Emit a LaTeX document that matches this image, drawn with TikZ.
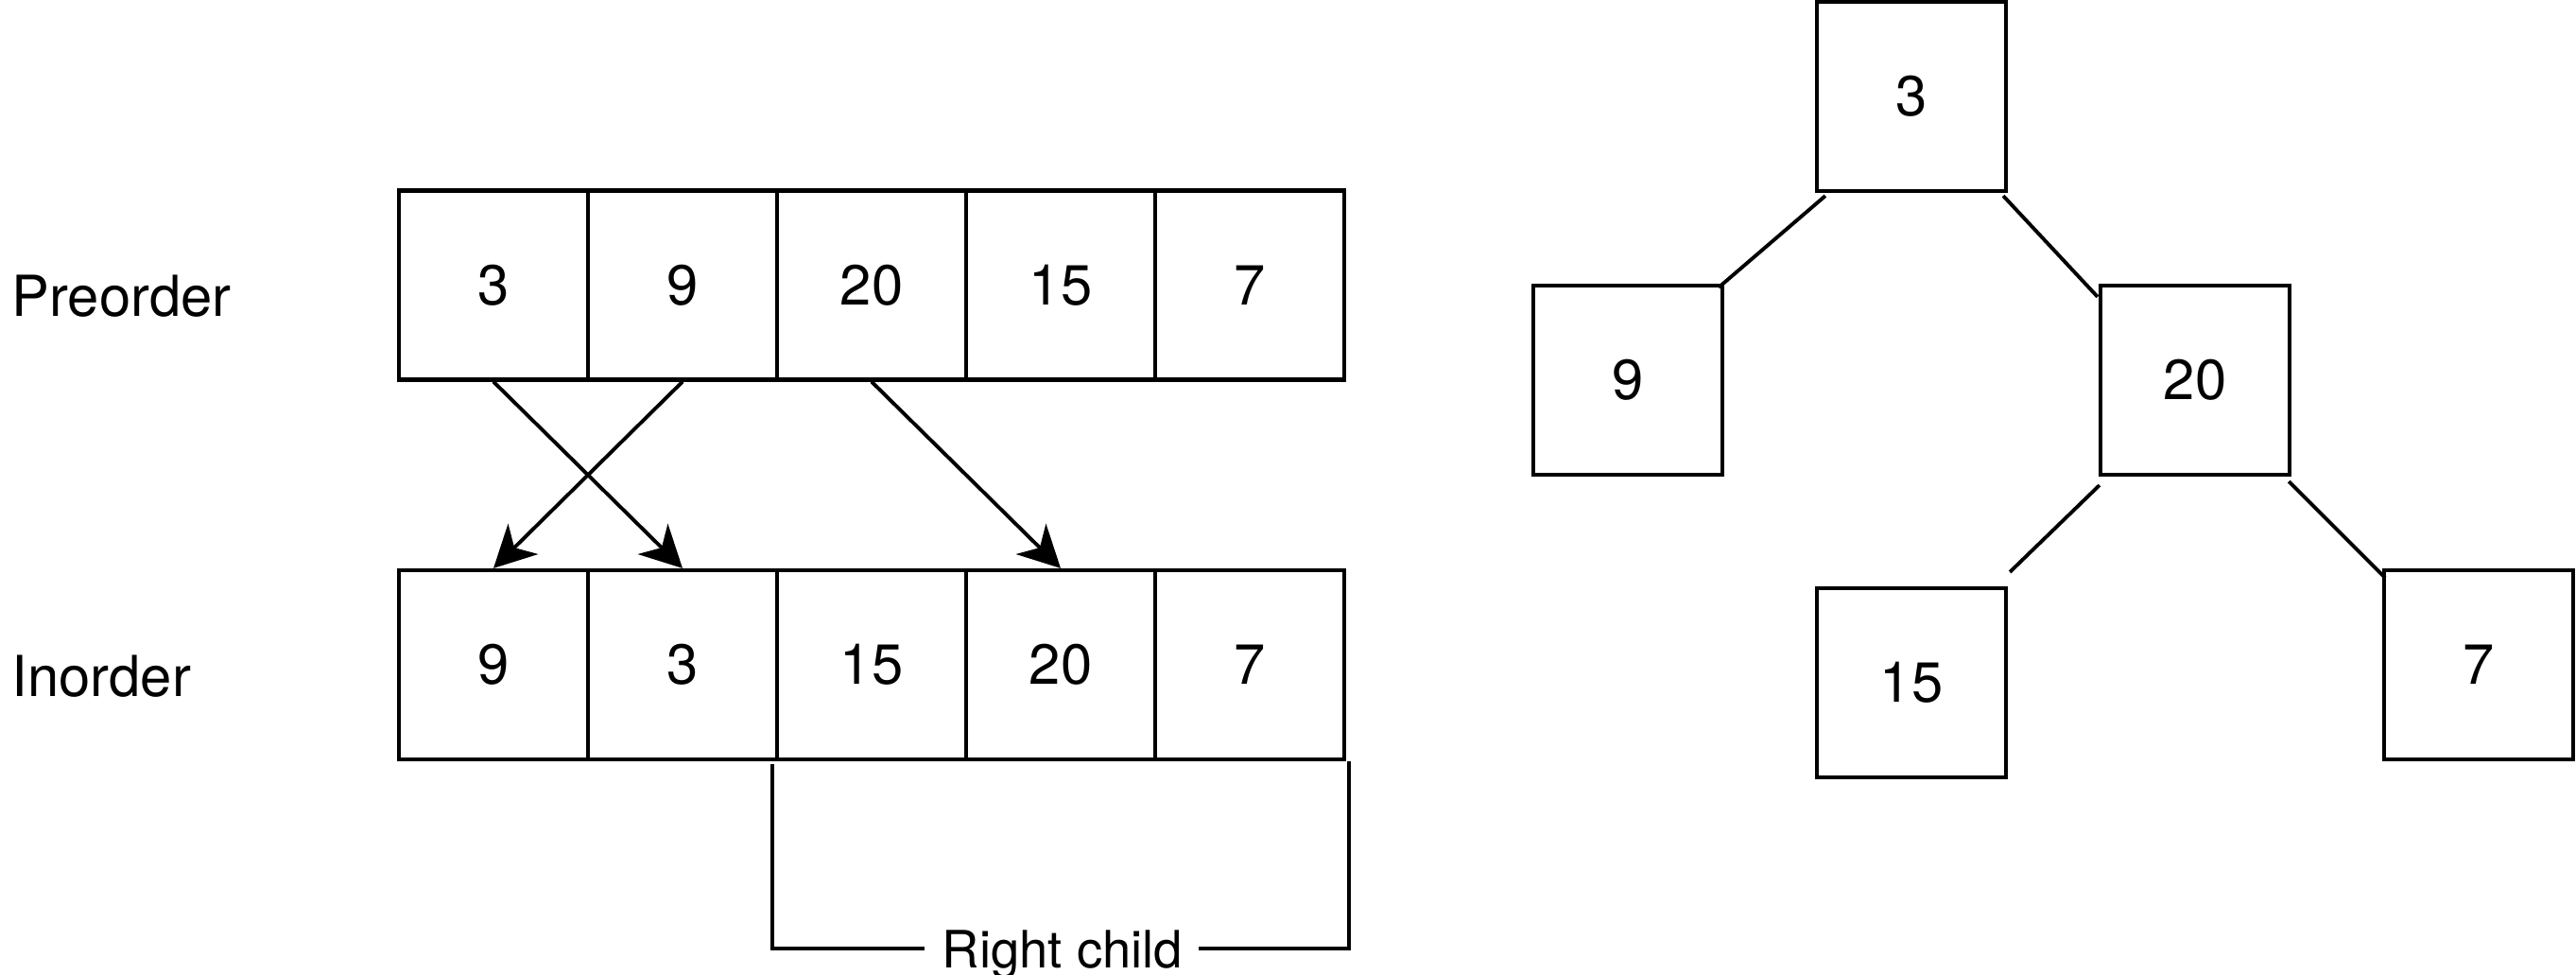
\documentclass[tikz,border=0pt]{standalone}
\usepackage{fontspec}
\setmainfont{TeX Gyre Heros}
\usepackage{tikz}
\usetikzlibrary{arrows.meta,calc}
\tikzset{cell/.style={draw=black,line width=1.2pt,minimum size=2cm,inner sep=0pt,font=\fontsize{17}{20}\selectfont}}
\tikzset{lbl/.style={inner sep=0pt,font=\fontsize{17}{20}\selectfont}}
\tikzset{conn/.style={line width=1.1pt}}

\begin{document}
\begin{tikzpicture}
\useasboundingbox (0,0) rectangle (27.25,10.30);
% \draw[help lines] (0,0) grid (27,10);
\node (pre) [lbl,anchor=west] at (0.12,7.17) {Preorder};
\node (ino) [lbl,anchor=west] at (0.12,3.15) {Inorder};
%
\node (p1) [cell] at (5.22,7.285) {3};
\node (p2) [cell] at (7.22,7.285) {9};
\node (p3) [cell] at (9.22,7.285) {20};
\node (p4) [cell] at (11.22,7.285) {15};
\node (p5) [cell] at (13.22,7.285) {7};
%
\node (i1) [cell] at (5.22,3.27) {9};
\node (i2) [cell] at (7.22,3.27) {3};
\node (i3) [cell] at (9.22,3.27) {15};
\node (i4) [cell] at (11.22,3.27) {20};
\node (i5) [cell] at (13.22,3.27) {7};
%
\path[-{Stealth[length=0.44cm,width=0.45cm,inset=0.13cm]},conn](p1.south) edge (i2.north);
\path[-{Stealth[length=0.44cm,width=0.45cm,inset=0.13cm]},conn](p2.south) edge (i1.north);
\path[-{Stealth[length=0.44cm,width=0.45cm,inset=0.13cm]},conn](p3.south) edge (i4.north);
%
\node (rc) [lbl,font=\fontsize{15.5}{18}\selectfont,anchor=base] at (11.24,0.07) {Right child};
\coordinate (tl) at (8.17,2.22);
\coordinate (bl) at (8.17,0.27);
\coordinate (tr) at (14.27,2.25);
\coordinate (br) at (14.27,0.27);
\draw[conn] (tl) -- (bl) -- ($(bl -| rc.west)+(-0.18,0)$);
\draw[conn] (tr) -- (br) -- ($(br -| rc.east)+(0.16,0)$);
%
\node (t3) [cell] at (20.22,9.28) {3};
\node (t9) [cell] at (17.22,6.28) {9};
\node (t20) [cell] at (23.22,6.28) {20};
\node (t15) [cell] at (20.22,3.08) {15};
\node (t7) [cell] at (26.22,3.27) {7};
%
\path[conn]($(t3.south west)+(0.11,-0.03)$) edge ($(t9.north east)+(-0.06,-0.04)$);
\path[conn]($(t3.south east)+(-0.05,-0.03)$) edge ($(t20.north west)+(-0.01,-0.14)$);
\path[conn]($(t20.south west)+(0.01,-0.09)$) edge ($(t15.north east)+(0.02,0.15)$);
\path[conn]($(t20.south east)+(-0.03,-0.05)$) edge ($(t7.north west)+(0.03,-0.10)$);
\end{tikzpicture}
\end{document}
